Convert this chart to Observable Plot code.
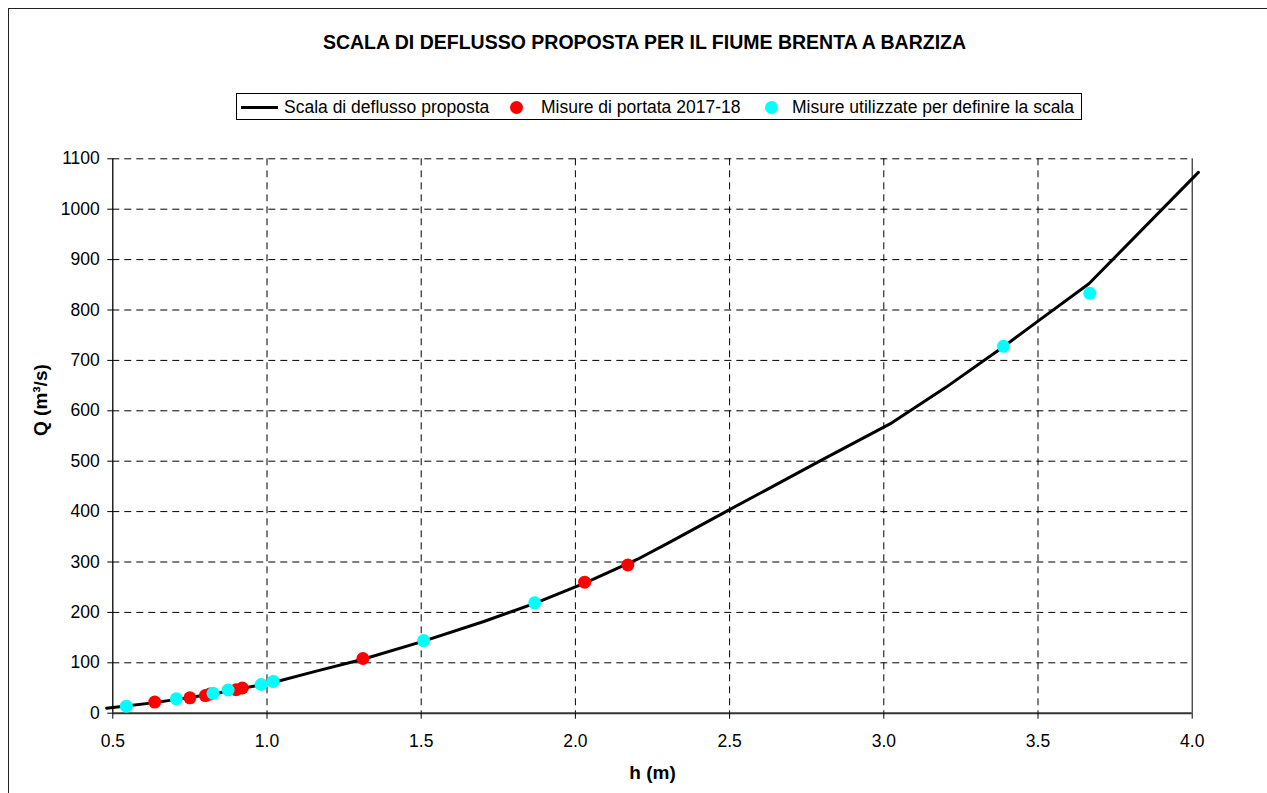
<!DOCTYPE html>
<html>
<head>
<meta charset="utf-8">
<script src="https://cdn.jsdelivr.net/npm/d3@7"></script>
<script src="https://cdn.jsdelivr.net/npm/@observablehq/plot@0.6"></script>
<style>
  html, body { margin: 0; padding: 0; background: #fff; overflow: hidden; }
  body { width: 1267px; height: 793px; position: relative; font-family: "Liberation Sans", Arial, sans-serif; color: #000; }
  #frame { position: absolute; left: 8px; top: 8px; width: 1400px; height: 900px; border: 1.5px solid #222; box-sizing: border-box; }
  #chart { position: absolute; left: 0; top: 0; }
  #title { position: absolute; left: 0; width: 1289px; top: 30px; text-align: center; font-weight: bold; font-size: 19.5px; line-height: 24px; }
  #legend { position: absolute; left: 236px; top: 93px; width: 846px; height: 27px; border: 1px solid #000; box-sizing: border-box; background: #fff; }
  .lg { position: absolute; top: 0; height: 27px; line-height: 27px; font-size: 17.5px; white-space: nowrap; }
  .sw-line { position: absolute; top: 12px; height: 3px; background: #000; }
  .sw-dot { position: absolute; top: 7px; width: 13px; height: 13px; border-radius: 50%; }
</style>
</head>
<body>
<div id="frame"></div>
<div id="chart"></div>
<div id="title">SCALA DI DEFLUSSO PROPOSTA PER IL FIUME BRENTA A BARZIZA</div>
<div id="legend"></div>
<script>
// ---- data ----
const titleText = "SCALA DI DEFLUSSO PROPOSTA PER IL FIUME BRENTA A BARZIZA";
const seriesNames = ["Scala di deflusso proposta", "Misure di portata 2017-18", "Misure utilizzate per definire la scala"];
const seriesColors = ["#000000", "#ff0000", "#00ffff"];

// rating curve (h in m, Q in m3/s)
const curveH = [0.48, 0.636, 0.825, 1.02, 1.163, 1.311, 1.508, 1.703, 1.868, 2.03, 2.2, 2.308, 2.5, 2.795, 3.02, 3.2, 3.388, 3.5, 3.665, 4.02];
const curveQ = [10, 21, 38, 61, 84, 107, 143, 182, 218, 258, 305, 340, 404, 501, 574, 646, 727, 778, 852, 1073];

// 2017-18 discharge measurements
const redH = [0.636, 0.75, 0.80, 0.815, 0.90, 0.92, 1.311, 2.03, 2.17];
const redQ = [22, 30.5, 35, 38, 46.5, 50, 108.5, 260, 294];

// measurements used to define the curve
const cyanH = [0.544, 0.706, 0.825, 0.874, 0.981, 1.02, 1.508, 1.868, 3.388, 3.668];
const cyanQ = [14, 28.5, 39.5, 46, 57, 63, 144, 219, 728, 833];

const xTicks = [0.5, 1.0, 1.5, 2.0, 2.5, 3.0, 3.5, 4.0];
const xTickLabels = ["0.5", "1.0", "1.5", "2.0", "2.5", "3.0", "3.5", "4.0"];
const yTicks = [0, 100, 200, 300, 400, 500, 600, 700, 800, 900, 1000, 1100];
const yTickLabels = ["0", "100", "200", "300", "400", "500", "600", "700", "800", "900", "1000", "1100"];
const xLabel = "h (m)";
const yLabel = "Q (m³/s)";

// ---- build ----
const curve = curveH.map((h, i) => ({h, q: curveQ[i]}));
const red = redH.map((h, i) => ({h, q: redQ[i]}));
const cyan = cyanH.map((h, i) => ({h, q: cyanQ[i]}));

const plot = Plot.plot({
  width: 1267,
  height: 793,
  marginLeft: 112.3,
  marginRight: 75.3,
  marginTop: 158.3,
  marginBottom: 80.3,
  style: {fontFamily: "'Liberation Sans', Arial, sans-serif", fontSize: "17.5px", color: "#000", background: "transparent", overflow: "visible"},
  x: {domain: [0.5, 4.0]},
  y: {domain: [0, 1100]},
  marks: [
    Plot.ruleX(xTicks.slice(1, -1), {stroke: "#000", strokeWidth: 1, strokeDasharray: "7,5"}),
    Plot.ruleY(yTicks.slice(1), {stroke: "#000", strokeWidth: 1, strokeDasharray: "7,5"}),
    Plot.ruleX([4.0], {stroke: "#000", strokeWidth: 1}),
    Plot.ruleX([0.5], {stroke: "#000", strokeWidth: 1.3}),
    Plot.ruleY([0], {stroke: "#333", strokeWidth: 2}),
    Plot.axisX({ticks: xTicks, tickFormat: (d) => xTickLabels[xTicks.indexOf(d)], tickSize: 6, tickPadding: 15, label: null}),
    Plot.axisY({ticks: yTicks, tickFormat: d => yTickLabels[yTicks.indexOf(d)], tickSize: 5, tickPadding: 8, label: null}),
    Plot.line(curve, {x: "h", y: "q", stroke: seriesColors[0], strokeWidth: 3, clip: false}),
    Plot.dot(red, {x: "h", y: "q", r: 6.5, fill: seriesColors[1], stroke: "none"}),
    Plot.dot(cyan, {x: "h", y: "q", r: 6.5, fill: seriesColors[2], stroke: "none"}),
    Plot.text([xLabel], {frameAnchor: "bottom", dy: 60, lineAnchor: "middle", fontWeight: "bold", fontSize: 19}),
    Plot.text([yLabel], {frameAnchor: "left", dx: -72, rotate: -90, lineAnchor: "middle", fontWeight: "bold", fontSize: 19})
  ]
});
document.getElementById("chart").appendChild(plot);

document.getElementById("title").textContent = titleText;

// legend
const lg = document.getElementById("legend");
const items = [
  {type: "line", sx: 4, sw: 37, tx: 47},
  {type: "dot", sx: 273, tx: 304},
  {type: "dot", sx: 528, tx: 555}
];
items.forEach((it, i) => {
  const sw = document.createElement("div");
  if (it.type === "line") {
    sw.className = "sw-line";
    sw.style.left = it.sx + "px";
    sw.style.width = it.sw + "px";
  } else {
    sw.className = "sw-dot";
    sw.style.left = it.sx + "px";
    sw.style.background = seriesColors[i];
  }
  lg.appendChild(sw);
  const t = document.createElement("div");
  t.className = "lg";
  t.style.left = it.tx + "px";
  t.textContent = seriesNames[i];
  lg.appendChild(t);
});
</script>
</body>
</html>
